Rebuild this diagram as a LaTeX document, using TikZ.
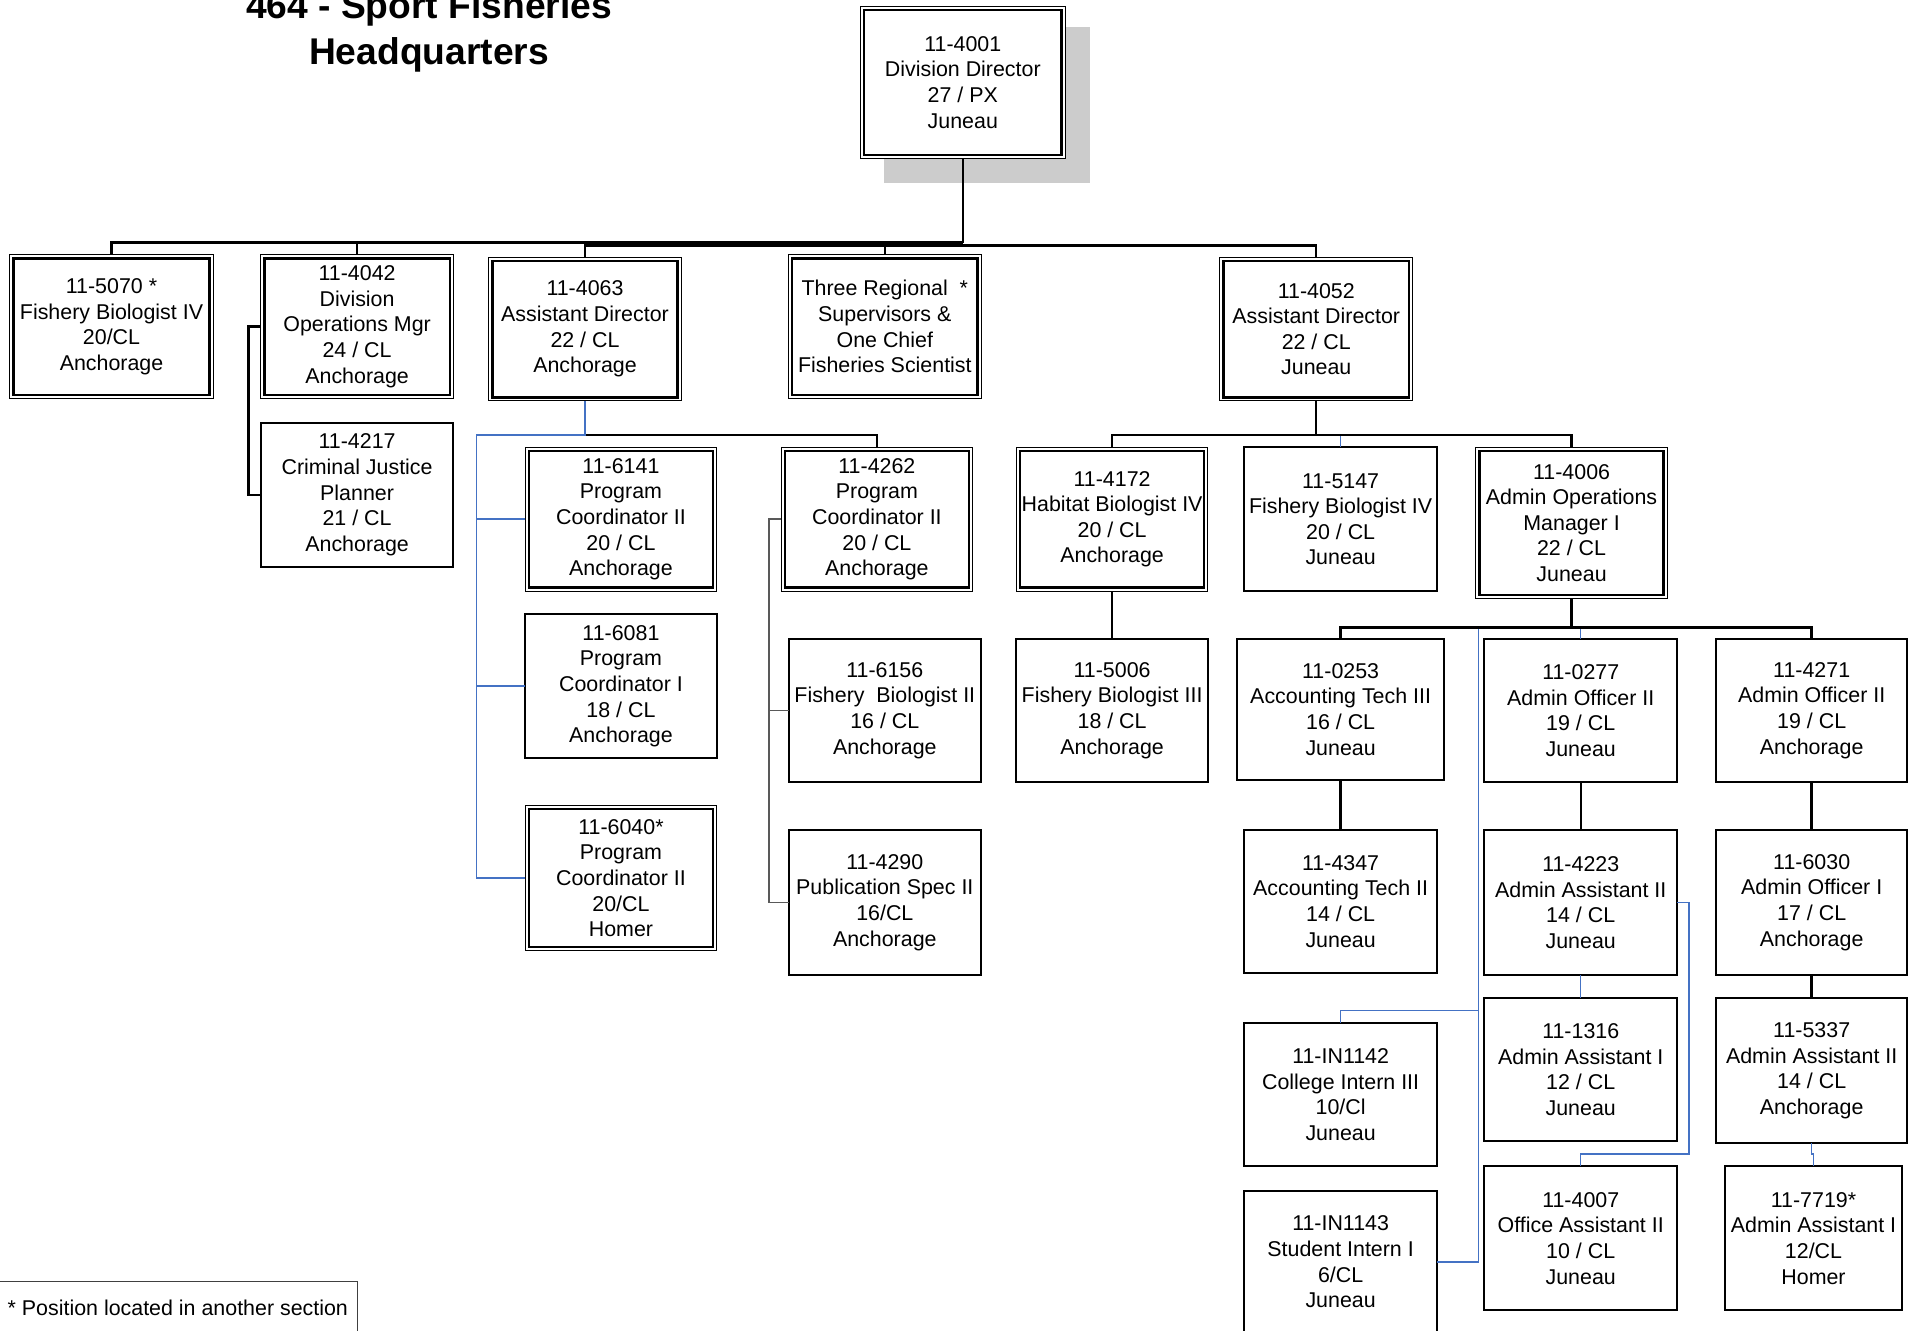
\documentclass[tikz,border=0pt]{standalone}
\usepackage{fontspec}
\setmainfont{Liberation Sans}
\definecolor{lnblue}{HTML}{4472C4}
\definecolor{shadowgray}{HTML}{CCCCCC}
\newcommand{\SingleBox}[6]{%
  \node[sbx, minimum width={((#4)-(#2))*0.609375pt}, minimum height={((#5)-(#3))*0.609375pt}]
    (#1) at ({((#2)+(#4))/2},{((#3)+(#5))/2}) {#6};}
\newcommand{\DoubleBox}[6]{%
  \node[dbx, minimum width={((#4)-(#2))*0.609375pt}, minimum height={((#5)-(#3))*0.609375pt}]
    (#1) at ({((#2)+(#4))/2},{((#3)+(#5))/2}) {#6};
  \draw[innerline] ([shift={(3,3)}]#1.north west) rectangle ([shift={(-3,-3)}]#1.south east);}
\begin{document}
\begin{tikzpicture}[x=0.609375pt,y=-0.609375pt,
  boxfont/.style={font=\fontsize{10.7pt}{12.8pt}\selectfont},
  sbx/.style={draw, line width=1pt, fill=white, align=center, inner sep=0pt, outer sep=0pt, boxfont},
  dbx/.style={draw, line width=0.5pt, fill=white, align=center, inner sep=0pt, outer sep=0pt, boxfont},
  innerline/.style={line width=1.2pt},
  conn/.style={line width=1.2pt, black},
  bl/.style={line width=0.75pt, lnblue},
  gr/.style={line width=0.8pt, black!65},
  titlefont/.style={font=\bfseries\fontsize{18.6pt}{23pt}\selectfont},
]
\useasboundingbox (0,0) rectangle (1568,1092);
\fill[white] (0,0) rectangle (1568,1092);

% title
\node[titlefont, anchor=base] (title1) at (352,15) {464 - Sport Fisheries};
\node[titlefont, anchor=base] (title2) at (352,53) {Headquarters};

% top box with shadow
\fill[shadowgray] (725,22) rectangle (894,150);
\DoubleBox{top}{706}{5}{874}{130}{11-4001\\Division Director\\27 / PX\\Juneau}

% row 1
\DoubleBox{b5070}{8}{209}{175}{327}{11-5070 *\\Fishery Biologist IV\\20/CL\\Anchorage}
\DoubleBox{b4042}{214}{209}{372}{327}{11-4042\\Division\\Operations Mgr\\24 / CL\\Anchorage}
\DoubleBox{b4063}{401}{211}{559}{329}{11-4063\\Assistant Director\\22 / CL\\Anchorage}
\DoubleBox{bthree}{647}{209}{805}{327}{Three Regional\ \ *\\Supervisors \&\\One Chief\\Fisheries Scientist}
\DoubleBox{b4052}{1001}{211}{1159}{329}{11-4052\\Assistant Director\\22 / CL\\Juneau}

% left groups
\SingleBox{b4217}{214}{347}{372}{465}{11-4217\\Criminal Justice\\Planner\\21 / CL\\Anchorage}
\DoubleBox{b6141}{431}{367}{588}{485}{11-6141\\Program\\Coordinator II\\20 / CL\\Anchorage}
\DoubleBox{b4262}{641}{367}{798}{485}{11-4262\\Program\\Coordinator II\\20 / CL\\Anchorage}
\SingleBox{b6081}{431}{504}{588}{622}{11-6081\\Program\\Coordinator I\\18 / CL\\Anchorage}
\DoubleBox{b6040}{431}{661}{588}{780}{11-6040*\\Program\\Coordinator II\\20/CL\\Homer}
\SingleBox{b6156}{647}{524}{805}{642}{11-6156\\Fishery\ \ Biologist II\\16 / CL\\Anchorage}
\SingleBox{b4290}{647}{681}{805}{800}{11-4290\\Publication Spec II\\16/CL\\Anchorage}

% right groups
\DoubleBox{b4172}{834}{367}{991}{485}{11-4172\\Habitat Biologist IV\\20 / CL\\Anchorage}
\SingleBox{b5147}{1021}{367}{1179}{485}{11-5147\\Fishery Biologist IV\\20 / CL\\Juneau}
\DoubleBox{b4006}{1211}{367}{1368}{491}{11-4006\\Admin Operations\\Manager I\\22 / CL\\Juneau}
\SingleBox{b5006}{834}{524}{991}{642}{11-5006\\Fishery Biologist III\\18 / CL\\Anchorage}
\SingleBox{b0253}{1015}{524}{1185}{640}{11-0253\\Accounting Tech III\\16 / CL\\Juneau}
\SingleBox{b0277}{1218}{524}{1376}{642}{11-0277\\Admin Officer II\\19 / CL\\Juneau}
\SingleBox{b4271}{1408}{524}{1565}{642}{11-4271\\Admin Officer II\\19 / CL\\Anchorage}
\SingleBox{b4347}{1021}{681}{1179}{798}{11-4347\\Accounting Tech II\\14 / CL\\Juneau}
\SingleBox{b4223}{1218}{681}{1376}{800}{11-4223\\Admin Assistant II\\14 / CL\\Juneau}
\SingleBox{b6030}{1408}{681}{1565}{800}{11-6030\\Admin Officer I\\17 / CL\\Anchorage}
\SingleBox{bIN1142}{1021}{839}{1179}{957}{11-IN1142\\College Intern III\\10/Cl\\Juneau}
\SingleBox{b1316}{1218}{819}{1376}{936}{11-1316\\Admin Assistant I\\12 / CL\\Juneau}
\SingleBox{b5337}{1408}{819}{1565}{938}{11-5337\\Admin Assistant II\\14 / CL\\Anchorage}
\SingleBox{bIN1143}{1021}{977}{1179}{1094}{11-IN1143\\Student Intern I\\6/CL\\Juneau}
\SingleBox{b4007}{1218}{957}{1376}{1075}{11-4007\\Office Assistant II\\10 / CL\\Juneau}
\SingleBox{b7719}{1415}{957}{1561}{1075}{11-7719*\\Admin Assistant I\\12/CL\\Homer}

% footnote
\node[draw=black!75, line width=0.6pt, anchor=north west, inner sep=0pt,
      minimum width={294*0.609375pt}, minimum height={50*0.609375pt}] (notebox) at (-1,1051) {};
\node[boxfont, anchor=west, inner sep=0pt] (notetext) at (6,1073) {* Position located in another section};

% level coordinates
\coordinate (yA) at (0,199);
\coordinate (yB) at (0,201.5);
\coordinate (y357) at (0,357);
\coordinate (y515) at (0,515);
\coordinate (y829) at (0,829);
\coordinate (y947) at (0,947);
\coordinate (x204) at (204,0);
\coordinate (x391) at (391,0);
\coordinate (x631) at (631,0);
\coordinate (x1213) at (1213,0);
\coordinate (x1386) at (1386,0);

% top level
\draw[conn] (top.south) -- (top.south |- yA);
\draw[conn] (b5070.north) -- (b5070.north |- yA) -- (top.south |- yA);
\draw[conn] (b4042.north) -- (b4042.north |- yA);
\draw[conn] (b4063.north) -- (b4063.north |- yB) -- (b4052.north |- yB) -- (b4052.north);
\draw[conn] (bthree.north) -- (bthree.north |- yB);

% 4042 -> 4217
\draw[conn] (b4042.west) -- (b4042.west -| x204) |- (b4217.west);

% 4063 group
\draw[conn] (b4063.south) -- (b4063.south |- y357) -| (b4262.north);
\draw[bl] (b4063.south) -- (b4063.south |- y357) -| (x391 |- b6040.west) -- (b6040.west);
\draw[bl] (x391 |- b6141.west) -- (b6141.west);
\draw[bl] (x391 |- b6081.west) -- (b6081.west);

% 4262 group
\draw[gr] (b4262.west) -| (x631 |- b4290.west) -- (b4290.west);
\draw[gr] (x631 |- b6156.west) -- (b6156.west);

% 4052 group
\draw[bl] (b4052.south) -- (b4052.south |- y357) -| (b5147.north);
\draw[conn] (b4052.south) -- (b4052.south |- y357);
\draw[conn] (b4172.north) |- (b4006.north |- y357) -- (b4006.north);
\draw[conn] (b4172.south) -- (b5006.north);

% 4006 group
\draw[bl] (b4006.south) -- (b4006.south |- y515) -| (x1213 |- bIN1143.east) -- (bIN1143.east);
\draw[bl] (x1213 |- y829) -| (bIN1142.north);
\draw[bl] (b4006.south |- y515) -| (b0277.north);
\draw[conn] (b4006.south) -- (b4006.south |- y515);
\draw[conn] (b0253.north) |- (b4271.north |- y515) -- (b4271.north);
\draw[conn] (b0253.south) -- (b4347.north);
\draw[conn] (b0277.south) -- (b4223.north);
\draw[conn] (b4271.south) -- (b6030.north);
\draw[conn] (b6030.south) -- (b5337.north);
\draw[bl] (b4223.south) -- (b1316.north);
\draw[bl] (b4223.east) -| (x1386 |- y947) -| (b4007.north);
\draw[bl] (b5337.south) -- (b5337.south |- y947) -| (b7719.north);
\end{tikzpicture}
\end{document}
